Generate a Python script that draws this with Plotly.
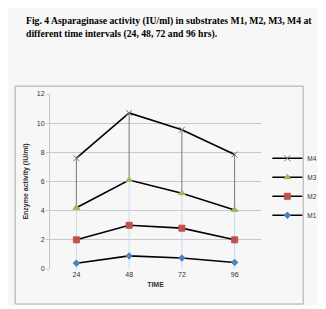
import plotly.graph_objects as go

time = [24, 48, 72, 96]
tick_labels = ["24", "48", "72", "96"]
# stacked increments (cumulative values)
m1 = [0.4, 0.9, 0.75, 0.45]
m2 = [1.6, 2.1, 2.05, 1.55]
m3 = [2.2, 3.1, 2.4, 2.05]
m4 = [3.4, 4.6, 4.35, 3.8]
y_ticks = [0, 2, 4, 6, 8, 10, 12]

series = [
    ("M1", m1, "#4f81bd", "diamond", 5),
    ("M2", m2, "#c0504d", "square", 6),
    ("M3", m3, "#9bbb59", "triangle-up", 6),
    ("M4", m4, "#7f6f9f", "x-thin", 6),
]

cum = [[0] * 4]
for _, vals, *_ in series:
    cum.append([a + b for a, b in zip(cum[-1], vals)])

fig = go.Figure()

# drop lines (derived from data)
dx, dy, gx, gy = [], [], [], []
for i, t in enumerate(time):
    dx += [t, t, None]
    dy += [0, cum[3][i], None]
    gx += [t, t, None]
    gy += [cum[3][i], cum[4][i], None]
fig.add_trace(go.Scatter(x=dx, y=dy, mode="lines", line=dict(color="#c9d8ee", width=1),
                         showlegend=False, hoverinfo="skip"))
fig.add_trace(go.Scatter(x=gx, y=gy, mode="lines", line=dict(color="#777777", width=1),
                         showlegend=False, hoverinfo="skip"))

for name, vals, col, sym, sz in series:
    fig.add_trace(go.Scatter(
        x=time, y=vals, name=name, stackgroup="one", fill="none",
        mode="lines+markers",
        line=dict(color="black", width=1.6),
        marker=dict(color=col, symbol=sym, size=sz,
                    line=dict(color=col, width=1)),
    ))

font = "Liberation Sans, Arial, sans-serif"
fig.update_layout(
    width=326, height=309,
    margin=dict(l=42, r=61, t=86, b=48),
    paper_bgcolor="#f7f7f7",
    plot_bgcolor="#f7f7f7",
    showlegend=True,
    legend=dict(traceorder="reversed", x=1.03, y=0.47, xanchor="left", yanchor="middle",
                font=dict(family=font, size=6.5, color="#333333"),
                bgcolor="rgba(0,0,0,0)", itemwidth=30, tracegroupgap=0),
    xaxis=dict(range=[12, 108], tickvals=time, ticktext=tick_labels,
               showgrid=False, zeroline=False, showline=False,
               tickfont=dict(family=font, size=7, color="#333333"),
               title=dict(text="<b>TIME</b>", font=dict(family=font, size=7, color="#333333"),
                          standoff=5)),
    yaxis=dict(range=[0, 12], tickvals=y_ticks, showgrid=True, gridcolor="#c8c8c8",
               gridwidth=1, zeroline=False, showline=True, linecolor="#c8c8c8",
               ticks="outside", ticklen=3, tickcolor="#c8c8c8",
               tickfont=dict(family=font, size=7, color="#333333"),
               title=dict(text="<b>Enzyme activity (IU/ml)</b>",
                          font=dict(family=font, size=7, color="#333333"), standoff=7)),
    annotations=[dict(
        text="<b>Fig. 4 Asparaginase activity (IU/ml) in substrates M1, M2, M3, M4 at<br>different time intervals (24, 48, 72 and 96 hrs).</b>",
        xref="paper", yref="paper", x=-0.125, y=1.465, xanchor="left", yanchor="top",
        align="left", showarrow=False,
        font=dict(family="Liberation Serif, Times New Roman, serif", size=9.7, color="black"))],
    shapes=[
        dict(type="rect", xref="paper", yref="paper", x0=-0.165, x1=1.2, y0=-0.2, y1=1.045,
             line=dict(color="#aaaaaa", width=1), fillcolor="rgba(0,0,0,0)", layer="below"),
        dict(type="rect", xref="paper", yref="paper", x0=-0.3, x1=1.4, y0=-0.5, y1=-0.21,
             line=dict(width=0), fillcolor="white", layer="below"),
    ],
)

fig.write_html("out.html")
